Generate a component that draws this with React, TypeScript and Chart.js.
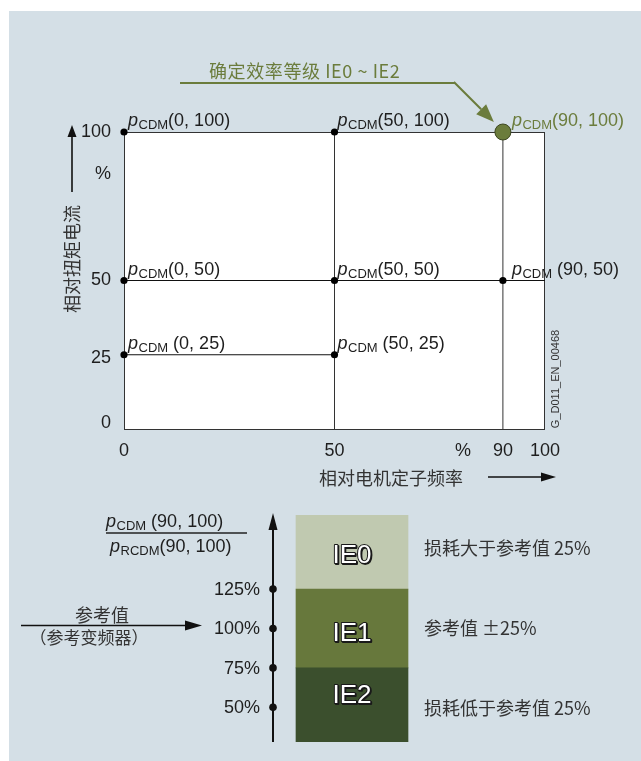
import React, { useEffect, useRef } from 'react';
import { Chart, registerables } from 'chart.js';

Chart.register(...registerables);

const W = 641;
const H = 761;

// ---------- upper diagram data ----------
const xTickValues = [0, 50, 90, 100];
const yTickValues = [0, 25, 50, 100];
const hLineY = [50, 25];
const hLineEnd = [100, 50];
const vLineX = [50, 90];
const pointX = [0, 50, 0, 50, 90, 0, 50];
const pointY = [100, 100, 50, 50, 50, 25, 25];
const pointArgs = ['(0, 100)', '(50, 100)', '(0, 50)', '(50, 50)', ' (90, 50)', ' (0, 25)', ' (50, 25)'];
const highlightX = [90];
const highlightY = [100];
const highlightArgs = ['(90, 100)'];
const titleText = '确定效率等级 IE0 ~ IE2';
const yAxisTitle = '相对扭矩电流';
const xAxisTitle = '相对电机定子频率';
const drawingId = 'G_D011_EN_00468';

// ---------- lower diagram data ----------
const classNames = ['IE2', 'IE1', 'IE0'];
const classLow = [28, 75, 125];
const classHigh = [75, 125, 172];
const classNotes = ['损耗低于参考值 25%', '参考值 ±25%', '损耗大于参考值 25%'];
const ratioTicks = [50, 75, 100, 125];
const ratioTickLabels = ['50%', '75%', '100%', '125%'];
const refLabel = '参考值';
const refSubLabel = '（参考变频器）';

const LAT = '"Liberation Sans", Arial, sans-serif';
const CJK = '"Noto Sans CJK SC", sans-serif';
const GREEN = '#6b7c3c';
const TXT = '#1e1e1e';
const CTXT = '#333333';
const LINE = '#333333';

function arrow(ctx: CanvasRenderingContext2D, x1: number, y1: number, x2: number, y2: number, len: number, half: number, color: string, lw: number) {
  const ang = Math.atan2(y2 - y1, x2 - x1);
  const bx = x2 - len * Math.cos(ang);
  const by = y2 - len * Math.sin(ang);
  ctx.save();
  ctx.strokeStyle = color;
  ctx.fillStyle = color;
  ctx.lineWidth = lw;
  ctx.beginPath();
  ctx.moveTo(x1, y1);
  ctx.lineTo(bx, by);
  ctx.stroke();
  ctx.beginPath();
  ctx.moveTo(x2, y2);
  ctx.lineTo(bx + half * Math.sin(ang), by - half * Math.cos(ang));
  ctx.lineTo(bx - half * Math.sin(ang), by + half * Math.cos(ang));
  ctx.closePath();
  ctx.fill();
  ctx.restore();
}

function pLabel(ctx: CanvasRenderingContext2D, x: number, baseline: number, sub: string, arg: string, color: string) {
  ctx.save();
  ctx.fillStyle = color;
  ctx.textAlign = 'left';
  ctx.textBaseline = 'alphabetic';
  ctx.font = `italic 18px ${LAT}`;
  ctx.fillText('p', x, baseline);
  let cx = x + ctx.measureText('p').width + 0.5;
  ctx.font = `13px ${LAT}`;
  ctx.fillText(sub, cx, baseline + 3);
  cx += ctx.measureText(sub).width;
  ctx.font = `18px ${LAT}`;
  ctx.fillText(arg, cx, baseline);
  ctx.restore();
}

function text(ctx: CanvasRenderingContext2D, s: string, x: number, y: number, font: string, color: string, align: CanvasTextAlign = 'left', base: CanvasTextBaseline = 'middle') {
  ctx.save();
  ctx.font = font;
  ctx.fillStyle = color;
  ctx.textAlign = align;
  ctx.textBaseline = base;
  ctx.fillText(s, x, y);
  ctx.restore();
}

const upperPlugin = {
  id: 'upperDecor',
  beforeDatasetsDraw(chart: any) {
    const { ctx, chartArea: a } = chart;
    ctx.save();
    ctx.fillStyle = '#ffffff';
    ctx.fillRect(a.left, a.top, a.right - a.left, a.bottom - a.top);
    ctx.strokeStyle = LINE;
    ctx.lineWidth = 1;
    ctx.strokeRect(a.left + 0.5, a.top + 0.5, a.right - a.left - 1, a.bottom - a.top);
    ctx.restore();
  },
  afterDatasetsDraw(chart: any) {
    const { ctx, chartArea: a, scales } = chart;
    const xs = scales.x;
    const ys = scales.y;
    // y ticks
    const yNudge: Record<number, number> = { 0: -6, 25: 3 };
    yTickValues.forEach((v) => {
      text(ctx, String(v), a.left - 13, ys.getPixelForValue(v) + (yNudge[v] || 0), `18px ${LAT}`, TXT, 'right');
    });
    text(ctx, '%', a.left - 13, ys.getPixelForValue(86), `18px ${LAT}`, TXT, 'right');
    // x ticks
    const xTickY = a.bottom + 22;
    xTickValues.forEach((v) => {
      text(ctx, String(v), xs.getPixelForValue(v), xTickY, `18px ${LAT}`, TXT, 'center');
    });
    text(ctx, '%', xs.getPixelForValue(80.5), xTickY, `18px ${LAT}`, TXT, 'center');
    // y axis arrow & title
    const yax = a.left - 52;
    arrow(ctx, yax, a.top + 60, yax, a.top - 7, 12, 4.5, '#111', 1.6);
    ctx.save();
    ctx.translate(yax, a.top + 127);
    ctx.rotate(-Math.PI / 2);
    text(ctx, yAxisTitle, 0, 0, `18px ${CJK}`, CTXT, 'center');
    ctx.restore();
    // x axis title & arrow
    text(ctx, xAxisTitle, 391, a.bottom + 49, `18px ${CJK}`, CTXT, 'center');
    arrow(ctx, 488, a.bottom + 48, 556, a.bottom + 48, 15, 4.5, '#111', 1.6);
    // drawing id
    ctx.save();
    ctx.translate(a.right + 11, a.bottom - 50);
    ctx.rotate(-Math.PI / 2);
    text(ctx, drawingId, 0, 0, `11px ${LAT}`, CTXT, 'center');
    ctx.restore();
    // point labels
    pointX.forEach((px, i) => {
      const x = xs.getPixelForValue(px);
      const y = ys.getPixelForValue(pointY[i]);
      const dx = px >= 90 ? 9 : px >= 50 ? 3 : 4;
      pLabel(ctx, x + dx, y - 6, 'CDM', pointArgs[i], TXT);
    });
    highlightX.forEach((hx, i) => {
      const x = xs.getPixelForValue(hx);
      const y = ys.getPixelForValue(highlightY[i]);
      pLabel(ctx, x + 9, y - 6, 'CDM', highlightArgs[i], GREEN);
      // leader with title
      const tipX = x - 9;
      const tipY = y - 10;
      ctx.save();
      ctx.strokeStyle = GREEN;
      ctx.lineWidth = 2;
      ctx.beginPath();
      ctx.moveTo(180, tipY - 39);
      ctx.lineTo(tipX - 39, tipY - 39);
      ctx.stroke();
      ctx.restore();
      arrow(ctx, tipX - 40, tipY - 40, tipX, tipY, 18, 7, GREEN, 2);
      ctx.save();
      (ctx as any).letterSpacing = '0.6px';
      text(ctx, titleText, 209, tipY - 51, `18px ${CJK}`, GREEN, 'left');
      ctx.restore();
    });
  },
};

const lowerPlugin = {
  id: 'lowerDecor',
  afterDatasetsDraw(chart: any) {
    const { ctx, chartArea: a, scales } = chart;
    const ys = scales.y;
    const ax = a.left - 1;
    // axis arrow
    arrow(ctx, ax, a.bottom, ax, a.top - 2, 17, 4.5, '#111', 2);
    // ticks
    ratioTicks.forEach((v, i) => {
      const y = ys.getPixelForValue(v);
      ctx.save();
      ctx.fillStyle = '#111';
      ctx.beginPath();
      ctx.arc(ax, y, 3.8, 0, Math.PI * 2);
      ctx.fill();
      ctx.restore();
      text(ctx, ratioTickLabels[i], ax - 13, y + 1, `18px ${LAT}`, TXT, 'right');
    });
    // class labels + notes
    const noteNudge = [3, 0, -4];
    const nameNudge = [-9, 5, 4];
    chart.data.datasets.forEach((ds: any, i: number) => {
      const el = chart.getDatasetMeta(i).data[0];
      const cy = (el.y + el.base) / 2;
      ctx.save();
      ctx.font = `26px ${LAT}`;
      ctx.textAlign = 'center';
      ctx.textBaseline = 'middle';
      ctx.lineJoin = 'round';
      ctx.strokeStyle = '#1a1a1a';
      ctx.lineWidth = 2;
      ctx.strokeText(classNames[i], el.x + 1, cy + nameNudge[i] + 1);
      ctx.strokeText(classNames[i], el.x, cy + nameNudge[i]);
      ctx.fillStyle = '#ffffff';
      ctx.fillText(classNames[i], el.x, cy + nameNudge[i]);
      ctx.restore();
      text(ctx, classNotes[i], el.x + el.width / 2 + 16, cy + noteNudge[i], `18px ${CJK}`, CTXT, 'left');
    });
    // fraction
    pLabel(ctx, 106, 527, 'CDM', ' (90, 100)', TXT);
    ctx.save();
    ctx.strokeStyle = '#222';
    ctx.lineWidth = 1.5;
    ctx.beginPath();
    ctx.moveTo(106, 533);
    ctx.lineTo(247, 533);
    ctx.stroke();
    ctx.restore();
    pLabel(ctx, 110, 552, 'RCDM', '(90, 100)', TXT);
    // reference arrow
    const yRef = ys.getPixelForValue(100) - 3;
    arrow(ctx, 21, yRef, 202, yRef, 17, 5, '#111', 1.6);
    text(ctx, refLabel, 102, yRef - 10, `18px ${CJK}`, CTXT, 'center');
    text(ctx, refSubLabel, 89, yRef + 12, `17px ${CJK}`, CTXT, 'center');
  },
};

export default function App() {
  const topRef = useRef<HTMLCanvasElement>(null);
  const botRef = useRef<HTMLCanvasElement>(null);

  useEffect(() => {
    const lineDatasets: any[] = [];
    hLineY.forEach((y, i) => {
      lineDatasets.push({
        data: [{ x: 0, y }, { x: hLineEnd[i], y }],
        showLine: true, pointRadius: 0, borderColor: '#111', borderWidth: 1, clip: false, order: 3,
      });
    });
    vLineX.forEach((x) => {
      lineDatasets.push({
        data: [{ x, y: 0 }, { x, y: 100 }],
        showLine: true, pointRadius: 0, borderColor: LINE, borderWidth: 1, clip: false, order: 3,
      });
    });
    const top = new Chart(topRef.current as HTMLCanvasElement, {
      type: 'scatter',
      data: {
        datasets: [
          ...lineDatasets,
          {
            data: pointX.map((x, i) => ({ x, y: pointY[i] })),
            pointRadius: 3.6, pointBackgroundColor: '#000', pointBorderWidth: 0, clip: false, order: 2,
          },
          {
            data: highlightX.map((x, i) => ({ x, y: highlightY[i] })),
            pointRadius: 8, pointBackgroundColor: GREEN, pointBorderColor: '#3c4620', pointBorderWidth: 1, clip: false, order: 1,
          },
        ],
      },
      options: {
        animation: false,
        responsive: false,
        maintainAspectRatio: false,
        devicePixelRatio: 1,
        events: [],
        layout: { padding: { left: 124, top: 132, right: W - 545, bottom: H - 429 } },
        plugins: { legend: { display: false }, tooltip: { enabled: false } },
        scales: {
          x: { type: 'linear', min: 0, max: 100, display: false },
          y: { type: 'linear', min: 0, max: 100, display: false },
        },
      },
      plugins: [upperPlugin],
    } as any);

    const bot = new Chart(botRef.current as HTMLCanvasElement, {
      type: 'bar',
      data: {
        labels: [''],
        datasets: classNames.map((n, i) => ({
          label: n,
          data: [[classLow[i], classHigh[i]]],
          backgroundColor: ['#3b4f2d', '#67783c', '#c0c9b0'][i],
          borderWidth: 0,
          grouped: false,
          barThickness: 112,
        })),
      },
      options: {
        animation: false,
        responsive: false,
        maintainAspectRatio: false,
        devicePixelRatio: 1,
        events: [],
        layout: { padding: { left: 274, top: 515, right: W - 430, bottom: H - 742 } },
        plugins: { legend: { display: false }, tooltip: { enabled: false } },
        scales: {
          x: { type: 'category', display: false },
          y: { type: 'linear', min: 28, max: 172, display: false },
        },
      },
      plugins: [lowerPlugin],
    } as any);

    return () => {
      top.destroy();
      bot.destroy();
    };
  }, []);

  return (
    <div style={{ position: 'absolute', left: 0, top: 0, width: W, height: H, overflow: 'hidden' }}>
      <div style={{ position: 'absolute', left: 9, top: 11, right: 0, bottom: 0, background: '#d4dfe6' }} />
      <canvas ref={topRef} width={W} height={H} style={{ position: 'absolute', left: 0, top: 0 }} />
      <canvas ref={botRef} width={W} height={H} style={{ position: 'absolute', left: 0, top: 0 }} />
    </div>
  );
}
